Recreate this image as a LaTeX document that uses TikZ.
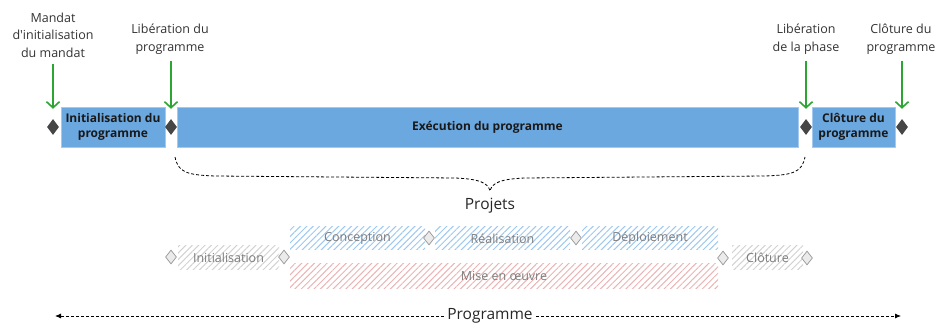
\documentclass[tikz,border=0pt]{standalone}
\usepackage{fontspec}
\setmainfont{Open Sans}
\usetikzlibrary{arrows.meta,shapes.geometric,patterns.meta}

\definecolor{phasebleu}{RGB}{108,168,224}
\definecolor{bordbleu}{RGB}{165,200,238}
\definecolor{jalongris}{RGB}{70,70,70}
\definecolor{vertlivr}{RGB}{45,165,50}
\definecolor{hachgris}{RGB}{210,210,210}
\definecolor{hachbleu}{RGB}{158,200,240}
\definecolor{hachrouge}{RGB}{235,180,180}
\definecolor{textegris}{RGB}{125,125,125}

\tikzset{
  phase/.style={draw=bordbleu, fill=phasebleu, align=center, inner sep=0pt, text=black!90,
    font=\bfseries\fontsize{12}{14.5}\selectfont},
  jalon/.style={diamond, fill=jalongris, minimum width=12pt, minimum height=16pt, inner sep=0pt},
  jalonprojet/.style={diamond, draw=textegris!80, fill=black!8, line width=0.7pt,
    minimum width=11pt, minimum height=14pt, inner sep=0pt},
  etiquette/.style={align=center, text=black!80, font=\fontsize{12.5}{17.5}\selectfont},
  livraison/.style={draw=vertlivr, line width=1.6pt, -{Straight Barb[length=6pt,width=13pt]}},
  hachure/.style={pattern={Lines[angle=45,distance=4.5pt,line width=1pt]}, pattern color=#1,
    inner sep=0pt, text=textegris, font=\fontsize{12.5}{14}\selectfont},
  titre/.style={text=black!85, font=\fontsize{15.5}{18}\selectfont},
  pointille/.style={dash pattern=on 3pt off 2pt, line width=0.8pt},
}

\begin{document}
\begin{tikzpicture}[x=1pt,y=-1pt]
\useasboundingbox (0,0) rectangle (940,323);

% phases du programme
\node[phase, minimum width=104pt, minimum height=40pt] (init) at (113,127) {Initialisation du\\programme};
\node[phase, minimum width=621pt, minimum height=40pt] (exec) at (487.5,127) {Exécution du programme};
\node[phase, minimum width=83pt, minimum height=40pt] (clot) at (853.5,127) {Clôture du\\programme};

% jalons
\node[jalon] (j0) at (53,127) {};
\node[jalon] (j1) at (171,127) {};
\node[jalon] (j2) at (806,127) {};
\node[jalon] (j3) at (902,127) {};

\node[etiquette] (mandat) at (53,35) {Mandat\\d\textquotesingle initialisation\\du mandat};
\node[etiquette] (libprog) at (170,39) {Libération du\\programme};
\node[etiquette] (libphase) at (806,39) {Libération\\de la phase};
\node[etiquette] (clotprog) at (901,39) {Clôture du\\programme};

\draw[livraison] ([yshift=-3pt]mandat.south -| j0) -- ([yshift=-2pt]j0 |- init.north);
\draw[livraison] ([yshift=-3pt]libprog.south -| j1) -- ([yshift=-2pt]j1 |- init.north);
\draw[livraison] ([yshift=-3pt]libphase.south -| j2) -- ([yshift=-2pt]j2 |- init.north);
\draw[livraison] ([yshift=-3pt]clotprog.south -| j3) -- ([yshift=-2pt]j3 |- init.north);

% accolade des projets
\node[titre] (projets) at (490,206) {Projets};
\draw[pointille] (175,157) .. controls (178,172) and (186,175) .. (215,176) -- (455,178)
  .. controls (480,179) and (488,183) .. (490,191)
  .. controls (492,183) and (500,179) .. (525,178) -- (765,176)
  .. controls (794,175) and (802,172) .. (805,157);

% phases des projets
\node[hachure=hachgris, minimum width=101pt, minimum height=24pt] (pinit) at (228.5,258) {Initialisation};
\node[hachure=hachbleu, minimum width=135pt, minimum height=23pt] (pconc) at (357.5,238.5) {Conception};
\node[hachure=hachbleu, minimum width=135pt, minimum height=23pt] (preal) at (502.5,238.5) {Réalisation};
\node[hachure=hachbleu, minimum width=136pt, minimum height=23pt] (pdepl) at (650,238.5) {Déploiement};
\node[hachure=hachrouge, minimum width=428pt, minimum height=24pt] (pmeo) at (504,276) {Mise en œuvre};
\node[hachure=hachgris, minimum width=71pt, minimum height=24pt] (pclot) at (767.5,258) {Clôture};

\foreach \x/\y in {171/257, 284/257, 429/238, 576/238, 723/258, 807/258}
  \node[jalonprojet] at (\x,\y) {};

% durée du programme
\node[titre] (prog) at (490,316) {Programme};
\coordinate (debut) at (55,316);
\coordinate (fin) at (901,316);
\draw[pointille, -{Latex[length=6pt,width=5pt]}] (prog) -- (debut);
\draw[pointille, -{Latex[length=6pt,width=5pt]}] (prog) -- (fin);
\end{tikzpicture}
\end{document}
